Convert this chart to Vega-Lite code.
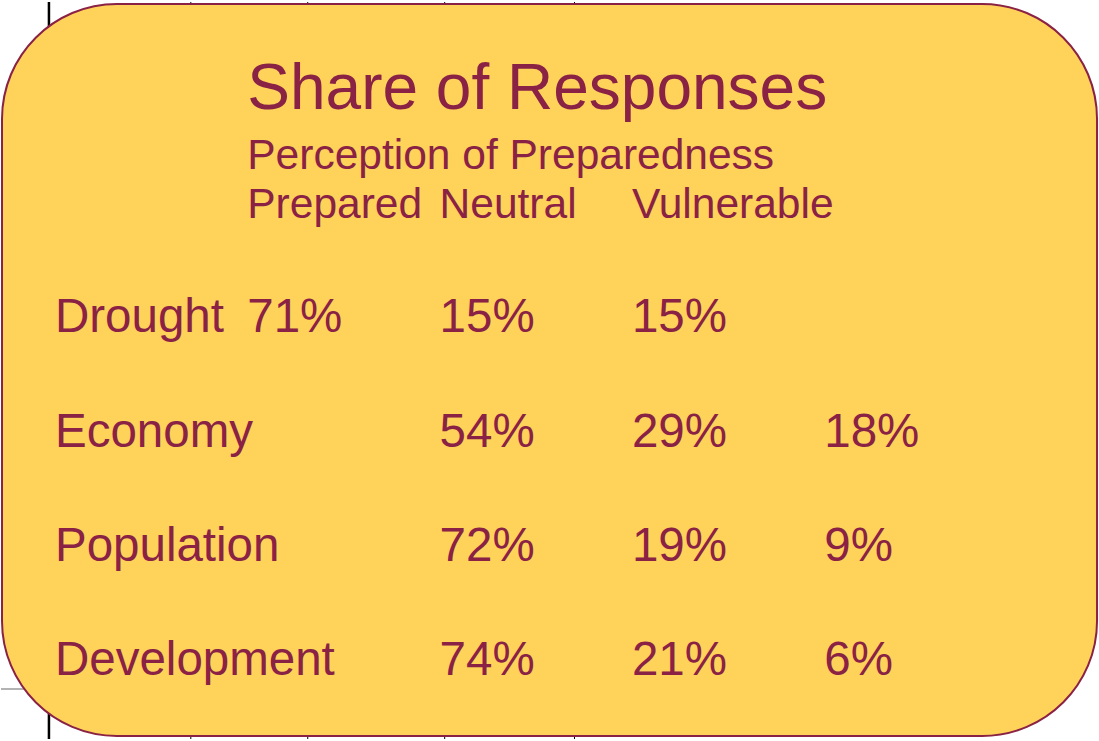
{
  "$schema": "https://vega.github.io/schema/vega-lite/v6.json",
  "width": 1099,
  "height": 741,
  "padding": 0,
  "autosize": {"type": "fit", "contains": "padding"},
  "background": "#ffffff",
  "config": {"view": {"stroke": null}},
  "datasets": {
    "vgrid": [
      {"col": -0.0416, "w": 2.5},
      {"col": 0.696, "w": 1},
      {"col": 1.304, "w": 1},
      {"col": 2.016, "w": 1},
      {"col": 2.691, "w": 1}
    ],
    "hgrid": [
      {"col": -0.2909, "col2": -0.0416, "row": 4.119}
    ],
    "box": [
      {"col": -0.2857, "col2": 5.408, "row": -1.8696, "row2": 4.5304}
    ],
    "heads": [
      {"text": "Share of Responses", "col": 1, "row": -0.9478, "size": 64},
      {"text": "Perception of Preparedness", "col": 1, "row": -0.426, "size": 42.5},
      {"text": "Prepared", "col": 1, "row": 0, "size": 42.5},
      {"text": "Neutral", "col": 2, "row": 0, "size": 42.5},
      {"text": "Vulnerable", "col": 3, "row": 0, "size": 42.5}
    ],
    "cells": [
      {"text": "Drought", "col": 0, "row": 1},
      {"text": "71%", "col": 1, "row": 1},
      {"text": "15%", "col": 2, "row": 1},
      {"text": "15%", "col": 3, "row": 1},
      {"text": "Economy", "col": 0, "row": 2},
      {"text": "54%", "col": 2, "row": 2},
      {"text": "29%", "col": 3, "row": 2},
      {"text": "18%", "col": 4, "row": 2},
      {"text": "Population", "col": 0, "row": 3},
      {"text": "72%", "col": 2, "row": 3},
      {"text": "19%", "col": 3, "row": 3},
      {"text": "9%", "col": 4, "row": 3},
      {"text": "Development", "col": 0, "row": 4},
      {"text": "74%", "col": 2, "row": 4},
      {"text": "21%", "col": 3, "row": 4},
      {"text": "6%", "col": 4, "row": 4}
    ]
  },
  "resolve": {"scale": {"x": "shared", "y": "shared"}},
  "layer": [
    {
      "data": {"name": "vgrid"},
      "mark": {"type": "rule", "color": "#000000"},
      "encoding": {
        "x": {"field": "col", "type": "quantitative", "scale": {"domain": [-0.2909, 5.4182], "nice": false, "zero": false}, "axis": null},
        "strokeWidth": {"field": "w", "type": "quantitative", "scale": null, "legend": null}
      }
    },
    {
      "data": {"name": "hgrid"},
      "mark": {"type": "rule", "color": "#9a9a9a", "strokeWidth": 1.5},
      "encoding": {
        "x": {"field": "col", "type": "quantitative"},
        "x2": {"field": "col2"},
        "y": {"field": "row", "type": "quantitative", "scale": {"domain": [-1.887, 4.557], "nice": false, "zero": false, "reverse": true}, "axis": null}
      }
    },
    {
      "data": {"name": "box"},
      "mark": {"type": "rect", "fill": "#FFD25A", "stroke": "#8A2245", "strokeWidth": 2, "cornerRadius": 115},
      "encoding": {
        "x": {"field": "col", "type": "quantitative"},
        "x2": {"field": "col2"},
        "y": {"field": "row", "type": "quantitative"},
        "y2": {"field": "row2"}
      }
    },
    {
      "data": {"name": "heads"},
      "mark": {"type": "text", "align": "left", "baseline": "alphabetic", "font": "Liberation Sans", "color": "#8A2245", "dx": -2},
      "encoding": {
        "x": {"field": "col", "type": "quantitative"},
        "y": {"field": "row", "type": "quantitative"},
        "text": {"field": "text"},
        "size": {"field": "size", "type": "quantitative", "scale": null, "legend": null}
      }
    },
    {
      "data": {"name": "cells"},
      "mark": {"type": "text", "align": "left", "baseline": "alphabetic", "font": "Liberation Sans", "fontSize": 47.5, "color": "#8A2245", "dx": -2},
      "encoding": {
        "x": {"field": "col", "type": "quantitative"},
        "y": {"field": "row", "type": "quantitative"},
        "text": {"field": "text"}
      }
    }
  ]
}
